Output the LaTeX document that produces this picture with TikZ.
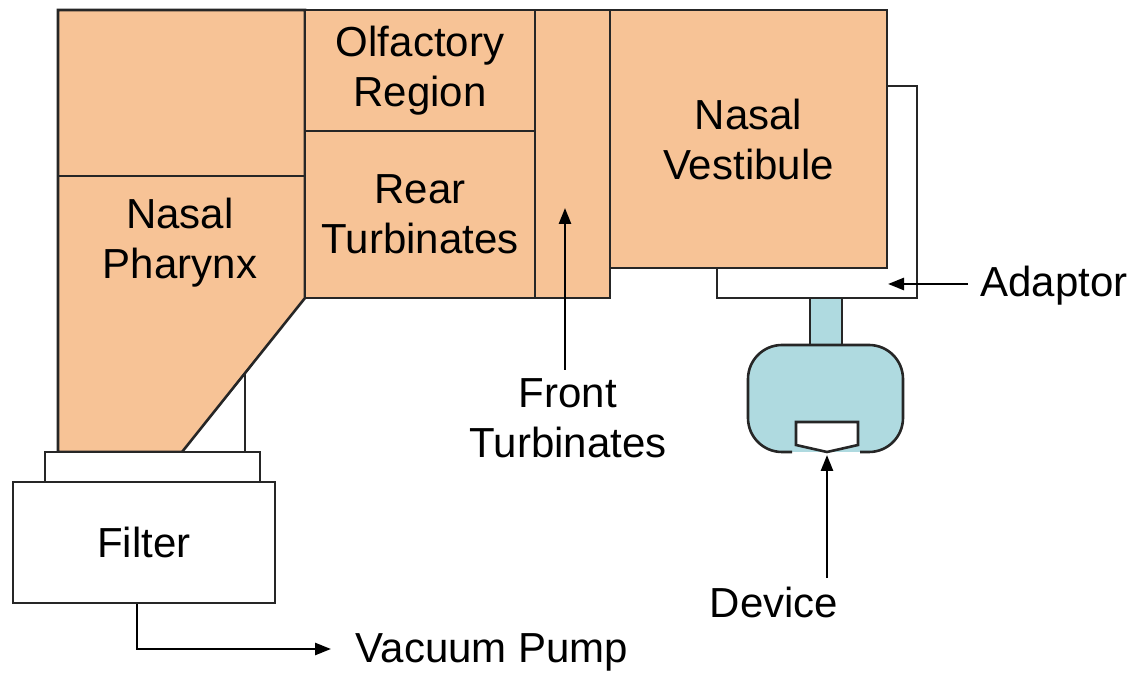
\documentclass[tikz,border=0pt]{standalone}
\usepackage{fontspec}
\setmainfont{Liberation Sans}
\usetikzlibrary{arrows.meta, positioning}

\definecolor{tissue}{HTML}{F7C396}
\definecolor{devblue}{HTML}{AFDAE0}

\begin{document}
\begin{tikzpicture}[
  x=0.5pt, y=-0.5pt,
  wall/.style={draw=black!85, line width=1.3pt},
  region/.style={wall, fill=tissue, rectangle, inner sep=0pt,
                 align=center, font=\fontsize{21}{25}\selectfont},
  lbl/.style={align=center, font=\fontsize{21}{25}\selectfont, inner sep=0pt},
  arrow/.style={-{Triangle[length=8pt, width=6pt]}, line width=1.3pt},
]
  \useasboundingbox (0,0) rectangle (1142,673);

  % nasal pharynx and the tube below it
  \draw[wall, fill=tissue] (58,10) -- (305,10) -- (305,298) -- (182,452) -- (58,452) -- cycle;
  \draw[wall] (58,176) -- (305,176);
  \draw[wall] (245,373) -- (245,452);
  \node[lbl] (pharynx) at (180,243) {Nasal\\Pharynx};

  % regions of the nose
  \node[region, minimum width=115pt, minimum height=60.5pt]  (olfactory)  at (420,70.5)  {Olfactory\\Region};
  \node[region, minimum width=115pt, minimum height=83.5pt]  (rear)       at (420,214.5) {Rear\\Turbinates};
  \node[region, minimum width=37.5pt, minimum height=144pt]  (front)      at (572.5,154) {};
  \node[region, minimum width=138.5pt, minimum height=129pt] (vestibule)  at (748.5,139) {Nasal\\Vestibule};

  % filter
  \draw[wall, fill=white] (45,452) rectangle (260,482);
  \node[region, fill=white, minimum width=131pt, minimum height=60.5pt] (filter) at (144,542.5) {Filter};

  % adaptor and device
  \draw[wall] (887,86) -- (917,86) -- (917,298) -- (717,298) -- (717,268);
  \draw[wall, fill=devblue] (810,298) rectangle (842,345);
  \draw[wall, fill=devblue, rounded corners=17pt]
    (792,452) -| (748,345) -| (903,452) -- (860,452);
  \draw[wall, fill=white] (796,422) -- (858,422) -- (858,445) -- (827,452) -- (796,445) -- cycle;
  \coordinate (devtip) at (827,455);

  % labels outside
  \node[lbl] (frontlbl) at (568,418) {Front\\Turbinates};
  \node[lbl] (adaptor)  at (1054,286) {Adaptor};
  \node[lbl] (device)   at (774,602) {Device};
  \node[lbl] (pump)     at (492,652) {Vacuum Pump};

  \coordinate (fronttip) at (565,208);
  \coordinate (adtip)    at (888,284);
  \coordinate (pumptip)  at (331,649);

  \draw[arrow] (frontlbl.north -| fronttip) ++(0,-8) -- (fronttip);
  \draw[arrow] (adaptor.west) ++(-12,-2) -- (adtip);
  \draw[arrow] (device.north -| devtip) ++(0,-8) -- (devtip);
  \draw[arrow] ([xshift=-3.5pt]filter.south) |- (pumptip);
\end{tikzpicture}
\end{document}
